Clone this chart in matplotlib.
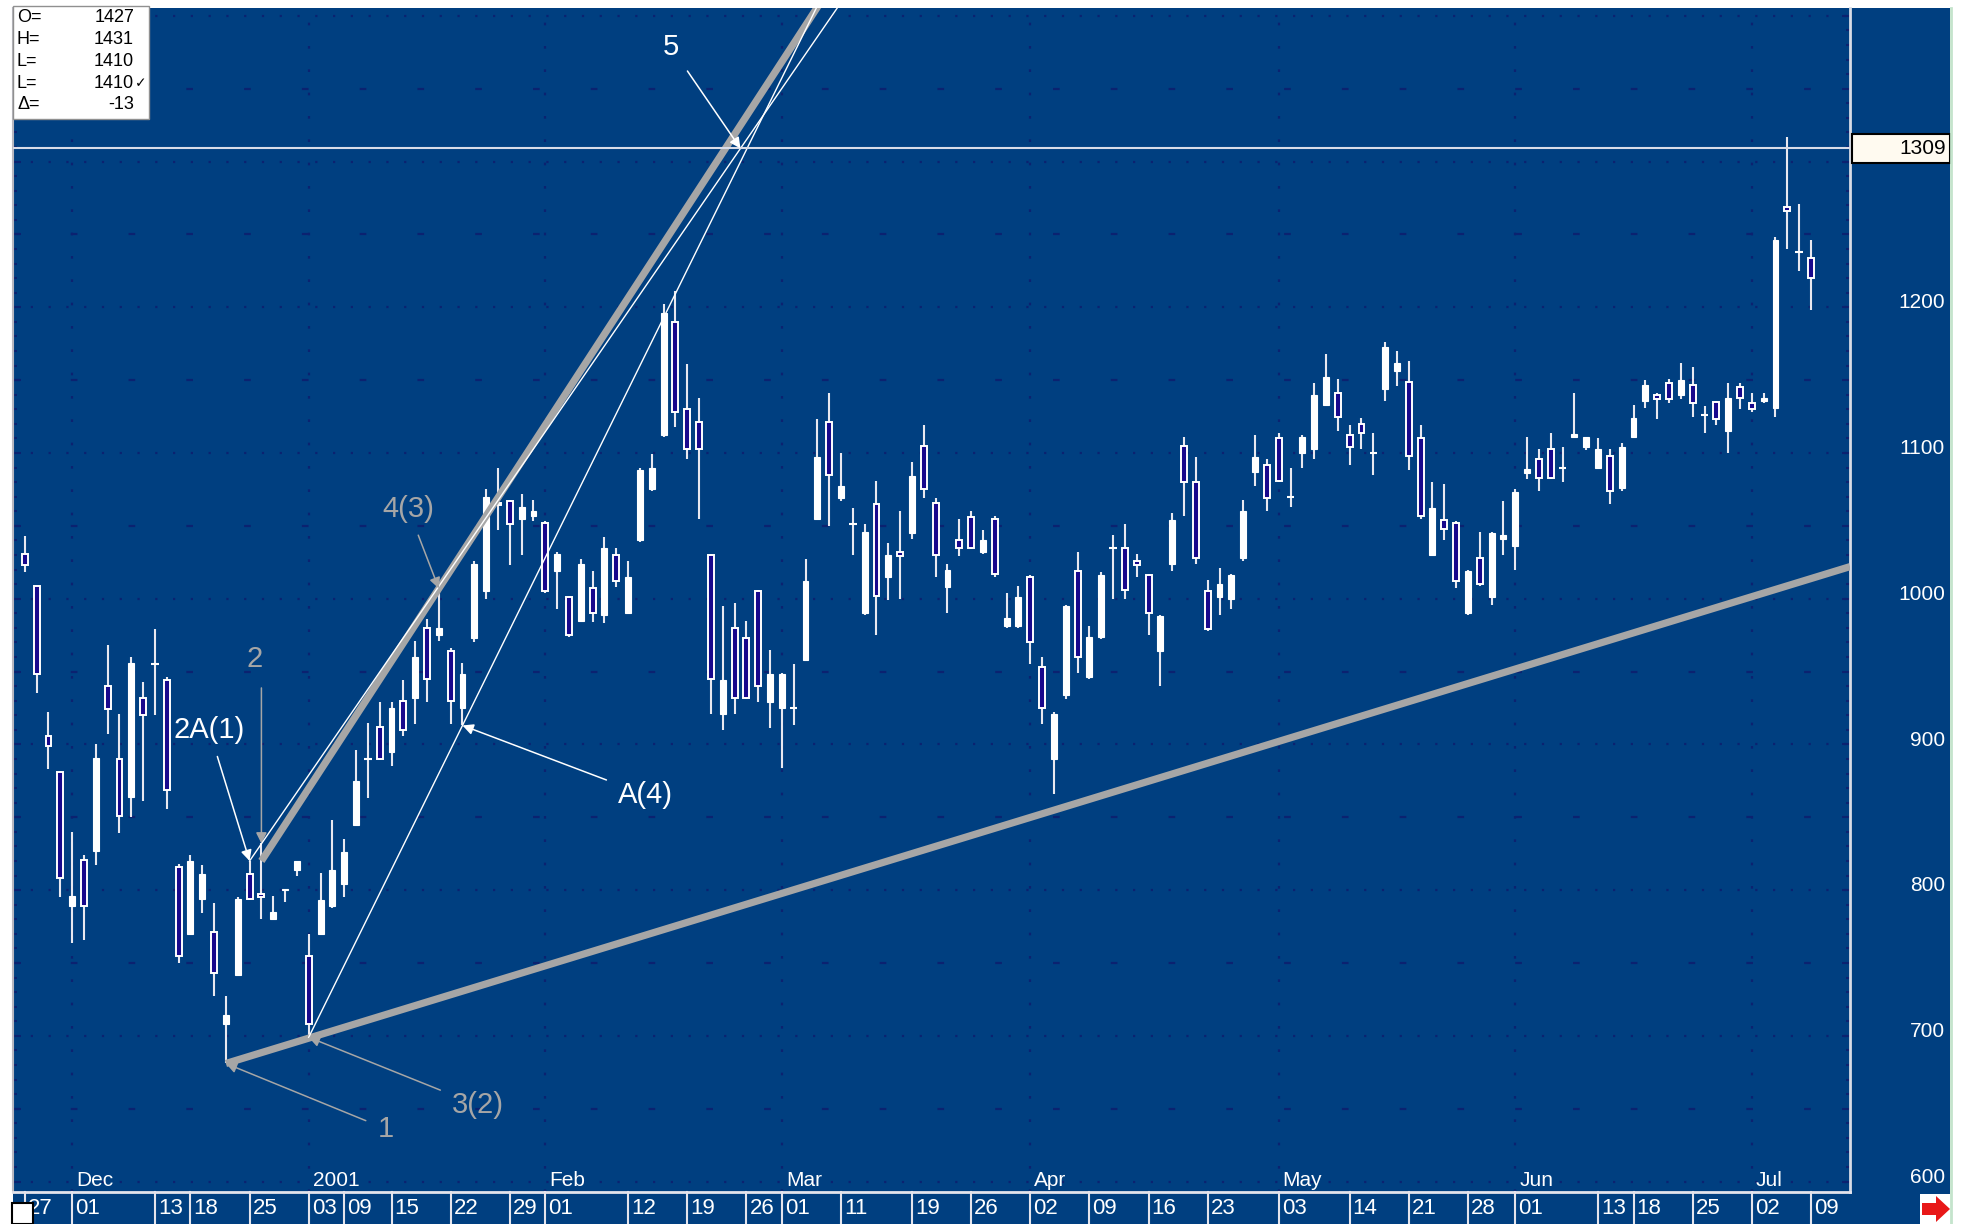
import numpy as np
import matplotlib
matplotlib.use("Agg")
import matplotlib.pyplot as plt
from matplotlib.patches import Rectangle, Polygon
from matplotlib.ticker import MultipleLocator
from matplotlib.transforms import offset_copy

# ---- daily candles (index = trading bar) ----
opens  = [1031,1009,906,881,789,821,827,940,890,864,932,955,944,816,770,794,771,708,742,811,
          797,780,800,814,755,770,789,804,845,890,912,895,930,932,980,975,964,925,973,1005,
          1066,1067,1055,1057,1052,1019,1001,985,1007,989,1030,990,1040,1075,1112,1190,1130,1121,1030,921,
          980,973,1005,929,925,925,958,1055,1121,1069,1051,990,1065,1015,1032,1045,1105,1066,1008,1040,
          1056,1032,1055,981,981,1015,953,890,934,1019,946,974,1035,1035,1026,1016,964,1024,1105,1080,
          1005,1001,1000,1028,1087,1092,1110,1070,1100,1103,1133,1141,1112,1120,1100,1144,1156,1149,1110,1030,
          1054,1052,990,1028,1001,1041,1036,1086,1096,1103,1090,1111,1104,1090,1098,1076,1111,1136,1140,1148,
          1140,1147,1126,1135,1115,1145,1134,1136,1131,1269,1238,1234]
highs  = [1043,1009,922,882,840,824,900,968,921,960,943,979,946,818,824,817,791,727,795,820,
          832,796,801,820,770,812,848,835,896,915,929,929,944,971,986,1007,966,956,1026,1075,
          1090,1068,1072,1068,1053,1032,1001,1027,1019,1042,1035,1026,1090,1099,1202,1211,1161,1138,1031,995,
          997,985,1006,965,949,955,1027,1123,1141,1100,1062,1051,1081,1038,1060,1094,1119,1069,1024,1055,
          1060,1047,1057,1004,1009,1016,960,922,996,1032,981,1018,1044,1051,1031,1017,989,1059,1111,1097,
          1013,1021,1017,1068,1112,1096,1114,1090,1112,1148,1168,1151,1119,1124,1114,1176,1170,1163,1119,1080,
          1079,1053,1020,1046,1046,1067,1075,1111,1103,1114,1104,1141,1111,1110,1103,1107,1133,1150,1141,1151,
          1162,1159,1132,1136,1148,1148,1141,1141,1248,1317,1271,1246]
lows   = [1018,935,883,795,764,766,817,907,839,850,861,920,856,750,769,784,727,681,741,793,
          780,780,792,810,699,769,788,795,844,863,889,885,906,914,929,971,914,913,970,1000,
          1047,1023,1030,1053,1004,993,974,984,984,983,1008,990,1039,1074,1111,1118,1096,1055,921,910,
          921,931,929,911,884,913,957,1054,1050,1067,1030,989,975,999,1000,1041,1069,1015,990,1029,
          1034,1031,1015,980,980,955,914,866,931,949,945,972,1000,1000,1015,975,940,1019,1057,1024,
          978,989,993,1026,1077,1060,1080,1063,1090,1096,1133,1115,1092,1103,1085,1136,1146,1088,1055,1030,
          1040,1007,989,1009,996,1030,1020,1082,1074,1082,1080,1110,1102,1089,1065,1074,1110,1131,1123,1134,
          1137,1125,1114,1119,1100,1130,1128,1134,1125,1240,1225,1198]
closes = [1023,948,899,808,796,789,891,924,851,956,920,955,869,755,820,811,743,714,794,794,
          795,785,801,820,708,793,814,826,875,890,890,925,910,960,945,980,930,948,1024,1070,
          1064,1051,1063,1060,1005,1031,975,1024,990,1035,1012,1015,1088,1090,1196,1128,1103,1103,945,944,
          932,932,940,948,948,925,1012,1097,1085,1077,1051,1046,1002,1030,1029,1084,1075,1030,1020,1035,
          1035,1040,1017,987,1001,970,925,921,995,960,974,1016,1035,1006,1023,990,988,1054,1080,1028,
          979,1010,1016,1060,1097,1069,1081,1070,1111,1140,1152,1125,1104,1114,1100,1173,1162,1098,1057,1062,
          1048,1012,1019,1010,1045,1044,1073,1089,1083,1083,1090,1113,1111,1103,1074,1104,1124,1147,1137,1137,
          1150,1134,1126,1123,1138,1138,1130,1138,1246,1266,1238,1220]

date_ticks  = [0,4,11,14,19,24,27,31,36,41,44,51,56,61,64,69,75,80,85,90,95,100,106,112,117,122,126,133,136,141,146,151]
date_labels = ["27","01","13","18","25","03","09","15","22","29","01","12","19","26","01","11",
               "19","26","02","09","16","23","03","14","21","28","01","13","18","25","02","09"]
month_pos    = [4,24,44,64,85,106,126,146]
month_labels = ["Dec","2001","Feb","Mar","Apr","May","Jun","Jul"]
price_labels = [600,700,800,900,1000,1100,1200,1300]
last_price = 1309
info_keys = ["O=","H=","L=","L=","Δ="]
info_vals = ["1427","1431","1410","1410","-13"]

# trend lines (bar index, price)
lower_trend = ([17, 154.3], [681, 1022])
upper_trend = ([20, 35], [820, 1007])
thin_a = ([19, 60.5], [820, 1309])
thin_b = ([24, 37], [699, 913])

W, H = 1966, 1224
BG = "#003f80"; GRID = "#0b2270"; HOLLOW = "#18088c"; GREY = "#a6a6a6"
plt.rcParams["font.family"] = ["Liberation Sans", "DejaVu Sans"]

def fx(px): return px / W
def fy(py): return 1 - py / H

fig = plt.figure(figsize=(W / 100, H / 100), dpi=100, facecolor="white")
fig.add_artist(Rectangle((fx(13), 0), fx(1950) - fx(13), fy(8), transform=fig.transFigure,
                         facecolor=BG, edgecolor="none", zorder=-10))
ax = fig.add_axes([fx(13), fy(1192), fx(1850) - fx(13), fy(8) - fy(1192)], facecolor=BG)
ax.set_xlim(-1, 154.3); ax.set_ylim(592.8, 1405.4)

# grid
for v in range(600, 1401, 100):
    ax.axhline(v, color=GRID, lw=1.6, ls=(0, (1, 7)), zorder=1)
for v in range(650, 1401, 100):
    ax.axhline(v, color=GRID, lw=1.6, ls=(0, (3, 23)), zorder=1)
for p in month_pos:
    ax.axvline(p, color=GRID, lw=1.6, ls=(0, (1.2, 9.3)), zorder=1)

# candles
O, Hh, L, C = map(np.array, (opens, highs, lows, closes))
x = np.arange(len(O))
up = C > O; dn = C < O; dj = C == O
ax.vlines(x, L, Hh, color="#e8e8f0", lw=1.5, zorder=2)
ax.bar(x[up], (C - O)[up], bottom=O[up], width=0.5, color="white", edgecolor="white", lw=0.8, zorder=3)
ax.bar(x[dn], (O - C)[dn], bottom=C[dn], width=0.5, facecolor=HOLLOW, edgecolor="white", lw=1.4, zorder=3)
ax.hlines(O[dj], x[dj] - 0.32, x[dj] + 0.32, color="white", lw=1.5, zorder=3)

# trend lines
def extend(pts, x0, x1):
    (a, b), (ya, yb) = pts
    s = (yb - ya) / (b - a)
    return [x0, x1], [ya + s * (x0 - a), ya + s * (x1 - a)]
ax.plot(*extend(lower_trend, 17, 154.3), color=GREY, lw=5.2, solid_capstyle="butt", zorder=4)
ax.plot(*extend(upper_trend, 20, 72), color=GREY, lw=5.2, solid_capstyle="butt", zorder=4)
ax.plot(*extend(thin_a, 19, 75), color="white", lw=1.0, zorder=4)
ax.plot(*extend(thin_b, 24, 75), color="white", lw=1.0, zorder=4)
ax.axhline(last_price, color="#d8dce8", lw=1.5, zorder=4)

# annotations
def note(txt, xy, off, col):
    ax.annotate(txt, xy=xy, xytext=off, textcoords="offset points", ha="center", va="center",
                color=col, fontsize=21, zorder=6,
                arrowprops=dict(arrowstyle="-|>", color=col, lw=1.1, mutation_scale=16,
                                shrinkA=7, shrinkB=0))
note("1", (17, lows[17]), (115, -47), GREY)
note("3(2)", (24, lows[24]), (122, -49), GREY)
note("A(4)", (37, lows[37]), (132, -50), "white")
note("4(3)", (35, highs[35]), (-22, 57), GREY)
note("2A(1)", (19, highs[19]), (-29, 94), "white")
note("5", (60.5, last_price), (-50, 73), "white")
ax.annotate("", xy=(20, highs[20]), xytext=(0, 112), textcoords="offset points",
            arrowprops=dict(arrowstyle="-|>", color=GREY, lw=1.1, mutation_scale=16, shrinkA=0, shrinkB=0))
ax.annotate("2", xy=(20, highs[20]), xytext=(-5, 133), textcoords="offset points",
            ha="center", va="center", color=GREY, fontsize=21)

# axes frame and ticks
ax.spines["top"].set_visible(False)
ax.spines["left"].set_color("#b8b8c0"); ax.spines["left"].set_linewidth(1.5)
ax.spines["right"].set_color("#d8dce6"); ax.spines["right"].set_linewidth(2)
ax.spines["bottom"].set_color("#e4e4ec"); ax.spines["bottom"].set_linewidth(2)
ax.yaxis.set_major_locator(MultipleLocator(50)); ax.yaxis.set_minor_locator(MultipleLocator(10))
ax.tick_params(axis="y", which="both", direction="in", left=True, right=True,
               labelleft=False, labelright=False, color=GRID, width=1.5)
ax.tick_params(axis="y", which="major", length=6); ax.tick_params(axis="y", which="minor", length=3)
ax.set_xticks([])

# price labels on the right
ytr = ax.get_yaxis_transform()
for v in price_labels:
    ax.text(1 + 95 / 1837, v + 3, str(v), transform=ytr, ha="right", va="center",
            color="white", fontsize=15, clip_on=False, zorder=1)
ax.add_patch(Rectangle((1 + 2 / 1837, last_price - 10), 98 / 1837, 20, transform=ytr,
                       facecolor="#fffaf0", edgecolor="black", lw=1.5, clip_on=False, zorder=8))
ax.text(1 + 96 / 1837, last_price, str(last_price), transform=ytr, ha="right", va="center",
        color="black", fontsize=15, clip_on=False, zorder=9)

# date band below the plot
xtr = ax.get_xaxis_transform()
band = 32 / 1184
for p, lab in zip(date_ticks, date_labels):
    ax.plot([p, p], [0, -band], transform=xtr, color="#e4e4ec", lw=1.5, clip_on=False)
    ax.text(p, -band / 2, lab, transform=offset_copy(xtr, fig, x=3, y=0, units="dots"),
            ha="left", va="center", color="white", fontsize=16, clip_on=False)
for p, lab in zip(month_pos, month_labels):
    ax.text(p, 2 / 1184, lab, transform=offset_copy(xtr, fig, x=4, y=0, units="dots"),
            ha="left", va="bottom", color="white", fontsize=15, zorder=5)

# info box top left
fig.add_artist(Rectangle((fx(13), fy(119)), fx(149) - fx(13), fy(6) - fy(119), transform=fig.transFigure,
                         facecolor="white", edgecolor="#909090", lw=1, zorder=10))
for i, (k, v) in enumerate(zip(info_keys, info_vals)):
    yy = fy(18 + i * 21.7)
    fig.text(fx(17), yy, k, ha="left", va="center", fontsize=13, color="black", zorder=11)
    fig.text(fx(134), yy, v, ha="right", va="center", fontsize=13, color="black", zorder=11)
fig.text(fx(135), fy(83), "✓", ha="left", va="center", fontsize=10, color="black",
         family="DejaVu Sans", zorder=11)

# small corner widgets
fig.add_artist(Rectangle((fx(12), 0), fx(33) - fx(12), fy(1203), transform=fig.transFigure,
                         facecolor="white", edgecolor="black", lw=1.5, zorder=10))
fig.add_artist(Rectangle((fx(1920), 0), fx(1950) - fx(1920), fy(1194), transform=fig.transFigure,
                         facecolor="white", edgecolor="none", zorder=10))
arrow = [(1922, 1203), (1936, 1203), (1936, 1196), (1950, 1209), (1936, 1222), (1936, 1215), (1922, 1215)]
fig.add_artist(Polygon([(fx(a), fy(b)) for a, b in arrow], closed=True, transform=fig.transFigure,
                       facecolor="#e81818", edgecolor="none", zorder=11))
fig.add_artist(plt.Line2D([fx(1951), fx(1951)], [0, fy(8)], transform=fig.transFigure,
                          color="#c4e4cc", lw=2, zorder=10))

fig.savefig("out.png", dpi=100, facecolor="white")
